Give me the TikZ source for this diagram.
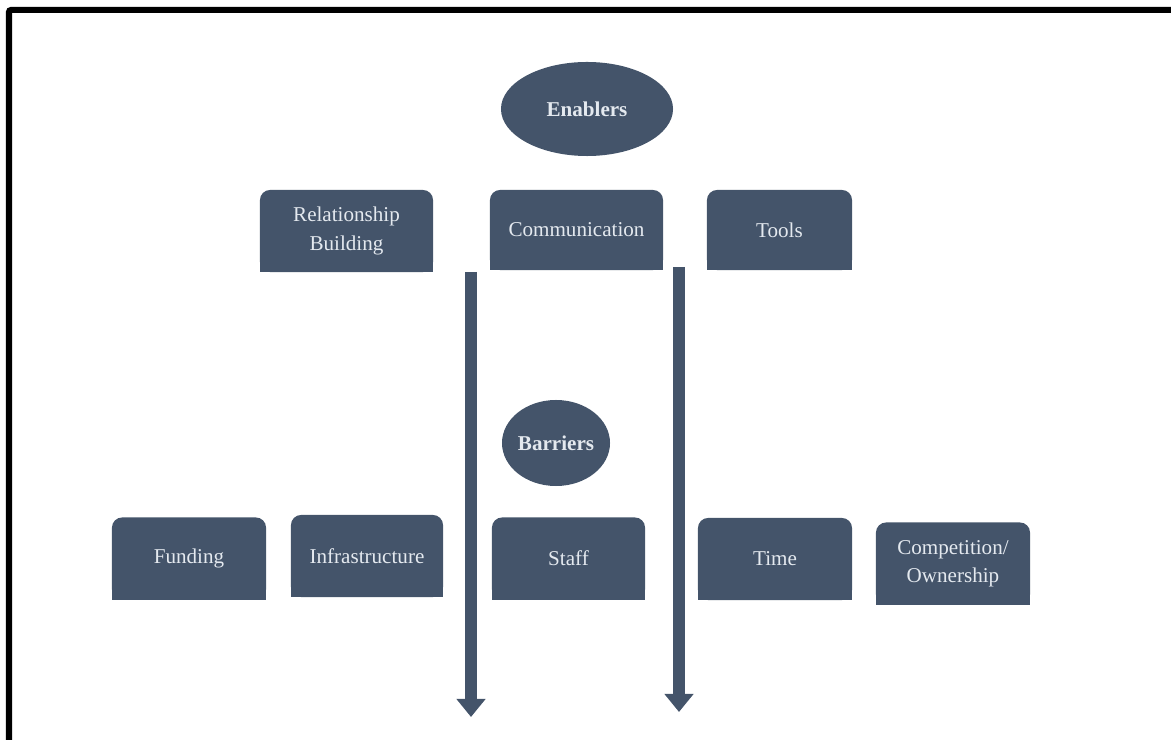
\documentclass[tikz,border=0pt]{standalone}
\usepackage{fontspec}
\setmainfont{Liberation Serif}
\usepackage{tikz}
\usetikzlibrary{shapes.geometric,arrows.meta,backgrounds}
\definecolor{slate}{HTML}{44546A}
\definecolor{paletext}{HTML}{E4E9EF}

\begin{document}
\begin{tikzpicture}[x=0.025cm,y=-0.025cm,
	box/.style={fill=slate, text=paletext, rounded corners=0.25cm, minimum width=3.85cm, minimum height=2.05cm, align=center, inner sep=0pt, font=\fontsize{15}{20}\selectfont},
	oval/.style={ellipse, fill=slate, text=paletext, inner sep=0pt, font=\fontsize{15}{18}\selectfont\bfseries},
	downarrow/.style={line width=0.28cm, slate, -{Triangle[width=0.7cm,length=0.45cm]}}]
				\useasboundingbox (0,0) rectangle (1171,740);
				
				% frame
				\draw [line width=0.15cm, rounded corners=0.05cm] (9,740) -- (9,10) -- (1171,10);
				
				\node [oval, minimum width=4.3cm, minimum height=2.35cm] (enab) at (587,109) {Enablers};
				
				\node [box, minimum width=4.325cm] (rel) at (346.5,231) {Relationship\\Building};
				\node [box, minimum width=4.325cm, minimum height=2cm] (com) at (576.5,230) {Communication};
				\node [box, minimum width=3.625cm, minimum height=2cm] (tools) at (779.5,230) {Tools};
				
				\node [oval, minimum width=2.7cm, minimum height=2.15cm] (barr) at (556,443) {Barriers};
				
				\node [box] (fund) at (189,558.5) {Funding};
				\node [box, minimum width=3.8cm] (infra) at (367,556) {Infrastructure};
				\node [box, minimum width=3.825cm] (staff) at (568.5,558.5) {Staff};
				\node [box] (time) at (775,559) {Time};
				\node [box] (comp) at (953,563.5) {Competition/\\Ownership};
				
				% square off the lower corners
				\begin{scope}[on background layer]
				\foreach \n in {rel,com,tools,fund,infra,staff,time,comp}
					\fill [slate] (\n.west) rectangle (\n.south east);
				\end{scope}
				
				\coordinate (a1top) at (471,272);
				\coordinate (a1end) at (471,717);
				\coordinate (a2top) at (679,267);
				\coordinate (a2end) at (679,712);
				
				\draw [downarrow] (a1top) -- (a1end);
				\draw [downarrow] (a2top) -- (a2end);
\end{tikzpicture}
\end{document}
